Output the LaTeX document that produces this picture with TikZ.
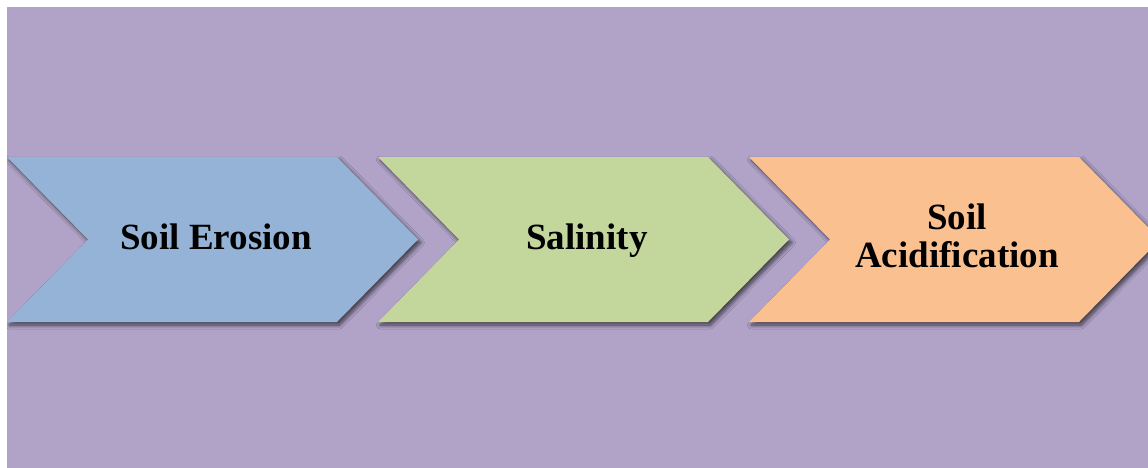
\documentclass[tikz,border=0pt]{standalone}
\usepackage{fontspec}
\setmainfont{Liberation Serif}
\usetikzlibrary{shadows.blur}
\definecolor{bgpurple}{HTML}{B1A3C8}
\definecolor{chevblue}{HTML}{95B3D7}
\definecolor{chevgreen}{HTML}{C3D69B}
\definecolor{chevorange}{HTML}{FAC090}
\tikzset{
  chevron/.style={draw=none, blur shadow={shadow xshift=2.5pt, shadow yshift=-3pt, shadow blur steps=8, shadow blur radius=4pt, shadow opacity=65}},
  label/.style={font=\fontsize{37}{38}\selectfont\bfseries, text=black, inner sep=0pt, align=center}
}
\begin{document}
\begin{tikzpicture}[x=1pt,y=-1pt]
\useasboundingbox (0,0) rectangle (1148,468);
\fill[bgpurple] (7,7) rectangle (1148,468);
\begin{scope}
\clip (7,7) rectangle (1148,468);
\fill[chevblue, chevron] (7,157) -- (337,157) -- (418,239.5) -- (337,322) -- (7,322) -- (88,239.5) -- cycle;
\fill[chevgreen, chevron] (378,157) -- (708,157) -- (789,239.5) -- (708,322) -- (378,322) -- (459,239.5) -- cycle;
\fill[chevorange, chevron] (749,157) -- (1079,157) -- (1160,239.5) -- (1079,322) -- (749,322) -- (830,239.5) -- cycle;
\end{scope}
\node[label, anchor=base] (erosion) at (216,249) {Soil Erosion};
\node[label, anchor=base] (salinity) at (587,249) {Salinity};
\node[label, anchor=center] (acid) at (957,236) {Soil\\Acidification};
\end{tikzpicture}
\end{document}
